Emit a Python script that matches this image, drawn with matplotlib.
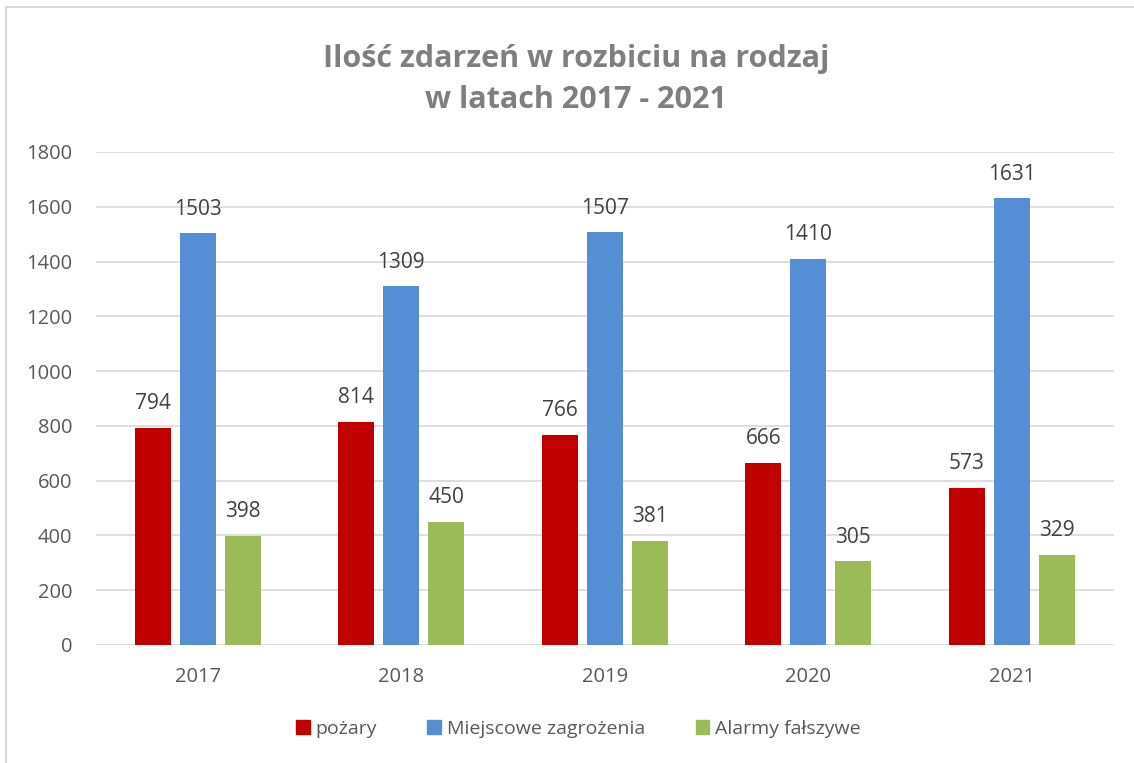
import numpy as np
import matplotlib
matplotlib.use("Agg")
from matplotlib import pyplot as plt
from matplotlib.lines import Line2D

plt.rcParams['font.family'] = ['Open Sans', 'DejaVu Sans']

years = ['2017', '2018', '2019', '2020', '2021']
pozary = [794, 814, 766, 666, 573]
miejscowe = [1503, 1309, 1507, 1410, 1631]
alarmy = [398, 450, 381, 305, 329]

series = [
    ('pożary', pozary, '#C00000'),
    ('Miejscowe zagrożenia', miejscowe, '#558ED5'),
    ('Alarmy fałszywe', alarmy, '#9BBB59'),
]

text_col = '#595959'

fig = plt.figure(figsize=(11.34, 7.63), dpi=100)
ax = fig.add_axes([0.0847, 0.1547, 0.8973, 0.6461])

x = np.arange(len(years))
w = 0.177
step = 0.221
for i, (name, vals, col) in enumerate(series):
    bars = ax.bar(x + (i - 1) * step, vals, width=w, color=col, label=name, zorder=3)
    for b, v in zip(bars, vals):
        ax.text(b.get_x() + b.get_width() / 2, v + 50, str(v), ha='center', va='bottom',
                fontsize=15, color='#404040')

ax.set_xlim(-0.5, len(years) - 0.5)
ax.set_ylim(0, 1800)
ax.set_yticks(np.arange(0, 1801, 200))
ax.set_xticks(x)
ax.set_xticklabels(years)
ax.grid(axis='y', color='#D9D9D9', linewidth=1.2, zorder=0)
for s in ax.spines.values():
    s.set_visible(False)
ax.tick_params(length=0, labelsize=14.5, labelcolor=text_col)
ax.tick_params(axis='y', pad=17)
ax.tick_params(axis='x', pad=16)

fig.text(0.508, 0.896, 'Ilość zdarzeń w rozbiciu na rodzaj\nw latach 2017 - 2021', ha='center',
         va='center', fontsize=22, fontweight='bold', color='#7F7F7F', linespacing=1.5)

handles = [plt.Rectangle((0, 0), 1, 1, color=c) for _, _, c in series]
fig.legend(handles, [n for n, _, _ in series], loc='center', bbox_to_anchor=(0.51, 0.045),
           ncol=3, frameon=False, fontsize=14, labelcolor=text_col, handlelength=0.7,
           handleheight=0.7, columnspacing=2.6, handletextpad=0.3)

# chart border (left and top edges visible)
fig.add_artist(Line2D([0.0055, 0.0055], [0, 0.991], color='#D9D9D9', lw=1.5, transform=fig.transFigure))
fig.add_artist(Line2D([0.0055, 1], [0.991, 0.991], color='#D9D9D9', lw=1.5, transform=fig.transFigure))

fig.savefig('out.png', dpi=100)
